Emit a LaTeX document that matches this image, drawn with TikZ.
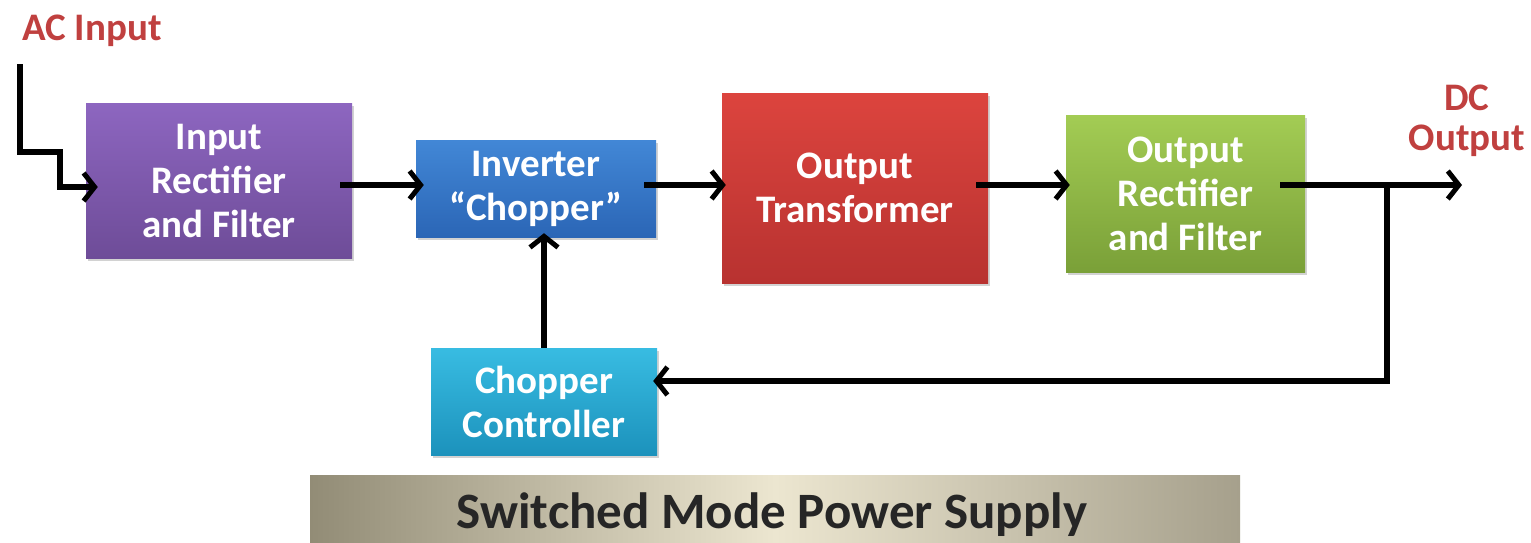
\documentclass[tikz,border=0pt]{standalone}
\usepackage{fontspec}
\setmainfont{Carlito}
\usetikzlibrary{arrows.meta,shadows}
\definecolor{acred}{HTML}{C0403F}
\begin{document}
\begin{tikzpicture}[x=1pt,y=-1pt,
  blk/.style={minimum width=#1, inner sep=0pt, align=center, text=white,
    font=\bfseries\fontsize{39}{44}\selectfont,
    drop shadow={opacity=0.35, shadow xshift=2pt, shadow yshift=-3pt}},
  conn/.style={line width=5.5pt, -{Straight Barb[length=11pt,width=28pt,line width=5pt]}},
  lbl/.style={text=acred, font=\bfseries\fontsize{39}{40}\selectfont, align=center, inner sep=0pt}]
\useasboundingbox (0,0) rectangle (1531,542);
\fill[white] (0,0) rectangle (1531,542);
% boxes
\node[blk=266pt, minimum height=155pt, top color={rgb,255:red,141;green,102;blue,192}, bottom color={rgb,255:red,110;green,76;blue,152}] (b1) at (219,180.5) {Input\\Rectifier\\and Filter};
\node[blk=240pt, minimum height=97pt, top color={rgb,255:red,66;green,135;blue,214}, bottom color={rgb,255:red,43;green,102;blue,182}] (b2) at (536,188.5) {Inverter\\“Chopper”};
\node[blk=266pt, minimum height=190pt, top color={rgb,255:red,220;green,68;blue,62}, bottom color={rgb,255:red,184;green,50;blue,48}] (b3) at (855,188) {Output\\Transformer};
\node[blk=239pt, minimum height=157pt, top color={rgb,255:red,163;green,204;blue,84}, bottom color={rgb,255:red,122;green,160;blue,56}] (b4) at (1185.5,193.5) {Output\\Rectifier\\and Filter};
\node[blk=226pt, minimum height=107pt, top color={rgb,255:red,56;green,188;blue,226}, bottom color={rgb,255:red,28;green,146;blue,188}] (b5) at (544,401.5) {Chopper\\Controller};
% banner
\node[minimum width=930pt, minimum height=70pt, inner sep=0pt,
  left color={rgb,255:red,146;green,140;blue,118},
  right color={rgb,255:red,166;green,160;blue,140},
  middle color={rgb,255:red,236;green,230;blue,208}] (ban) at (775,510) {};
\node[font=\bfseries\fontsize{51}{56}\selectfont, text=black!85, inner sep=0pt] (bantext) at (772,515) {Switched Mode Power Supply};
% labels
\node[lbl, anchor=west] (ac) at (22,31) {AC Input};
\node[lbl] (dc) at (1467,121) {DC\\Output};
% coordinates
\coordinate (acs) at (20,64);
\coordinate (ac1) at (60,152);
\coordinate (dcend) at (1462,185);
\coordinate (br) at (1387,185);
% connectors
\draw[conn] (acs) |- (ac1) |- ([xshift=12pt]b1.west |- 0,187);
\draw[conn, shorten <=-12pt, shorten >=-8pt] (b1.east |- 0,185) -- (b2.west |- 0,185);
\draw[conn, shorten <=-12pt, shorten >=-4pt] (b2.east |- 0,185) -- (b3.west |- 0,185);
\draw[conn, shorten <=-12pt, shorten >=-4pt] (b3.east |- 0,185) -- (b4.west |- 0,185);
\draw[conn, shorten <=-25pt] (b4.east |- 0,185) -- (dcend);
\draw[conn, shorten >=-4pt] (b5.north) -- (b2.south -| b5.north);
\draw[conn, shorten >=-4pt] (br) |- (b5.east |- 0,381);
\end{tikzpicture}
\end{document}
